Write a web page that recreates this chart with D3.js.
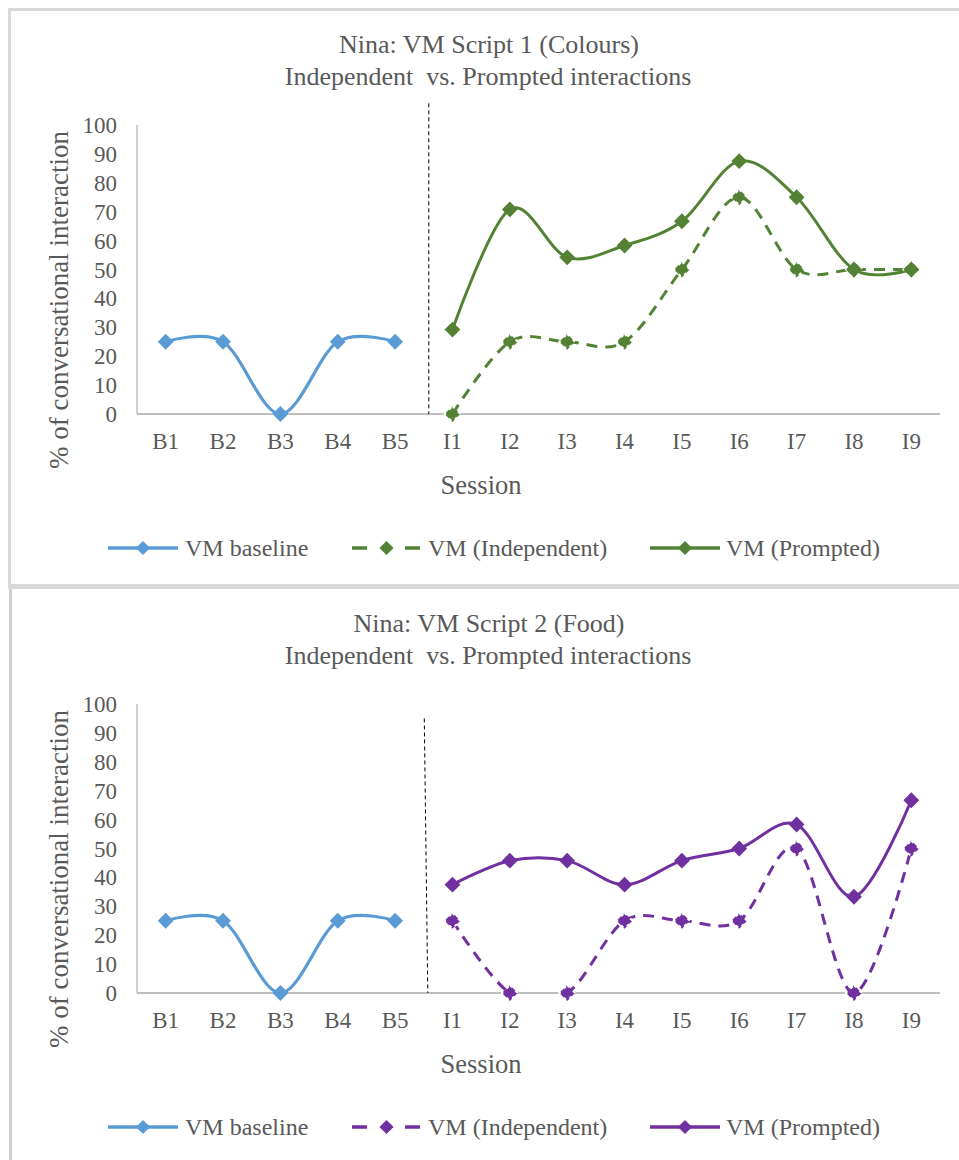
<!DOCTYPE html>
<html>
<head>
<meta charset="utf-8">
<script src="https://cdn.jsdelivr.net/npm/d3@7"></script>
<style>
  html, body { margin: 0; padding: 0; background: #ffffff; }
  svg { display: block; }
  text { font-family: "Liberation Serif", "Times New Roman", "DejaVu Serif", serif; fill: #595959; }
</style>
</head>
<body>
<svg id="chart" width="959" height="1160"></svg>
<script>
// ---------- data ----------
const sessions = ["B1","B2","B3","B4","B5","I1","I2","I3","I4","I5","I6","I7","I8","I9"];
const baselineSessions = ["B1","B2","B3","B4","B5"];
const interventionSessions = ["I1","I2","I3","I4","I5","I6","I7","I8","I9"];
const yTicks = [0,10,20,30,40,50,60,70,80,90,100];

const titles1 = ["Nina: VM Script 1 (Colours)", "Independent  vs. Prompted interactions"];
const baseline1 = [25,25,0,25,25];
const independent1 = [0,25,25,25,50,75,50,50,50];
const prompted1 = [29.2,70.8,54.2,58.3,66.7,87.5,75,50,50];

const titles2 = ["Nina: VM Script 2 (Food)", "Independent  vs. Prompted interactions"];
const baseline2 = [25,25,0,25,25];
const independent2 = [25,0,0,25,25,25,50,0,50];
const prompted2 = [37.5,45.8,45.8,37.5,45.8,50,58.3,33.3,66.7];

const legendLabels = ["VM baseline","VM (Independent)","VM (Prompted)"];
const yTitle = "% of conversational interaction";
const xTitle = "Session";

// ---------- styles ----------
const BLUE = "#5B9BD5";
const GREEN = "#548235";
const PURPLE = "#7030A0";
const AXIS = "#BFBFBF";
const FRAME = "#D9D9D9";
const SERIF = "'Liberation Serif', 'Times New Roman', 'DejaVu Serif', serif";

const svg = d3.select("#chart");

// frame
svg.append("rect").attr("x", 8).attr("y", 8).attr("width", 951).attr("height", 3).attr("fill", FRAME);
svg.append("rect").attr("x", 8).attr("y", 8).attr("width", 3).attr("height", 576).attr("fill", FRAME);
svg.append("rect").attr("x", 8).attr("y", 584).attr("width", 951).attr("height", 5).attr("fill", FRAME);
svg.append("rect").attr("x", 9).attr("y", 589).attr("width", 3).attr("height", 571).attr("fill", "#CFCFCF");

const x = d3.scaleBand().domain(sessions).range([137, 940]).paddingInner(0).paddingOuter(0);
const y = d3.scaleLinear().domain([0, 100]).range([414, 125]);
const cx = s => x(s) + x.bandwidth() / 2;

const line = d3.line().x(d => cx(d.s)).y(d => y(d.v)).curve(d3.curveCardinal.tension(0));
const diamond = d3.symbol().type(d3.symbolSquare).size(125);
const diamondSmall = d3.symbol().type(d3.symbolSquare).size(100);

function drawChart(idx, offsetY, titles, baseline, independent, prompted, color, divTop, divShiftTop, divShiftBottom) {
  const g = svg.append("g").attr("transform", `translate(0,${offsetY})`);

  // clip to plot area (Excel clips series lines to the plot area)
  const clipId = "plotclip" + idx;
  g.append("clipPath").attr("id", clipId).append("rect")
    .attr("x", x.range()[0]).attr("y", y(100) - 20)
    .attr("width", x.range()[1] - x.range()[0]).attr("height", y(0) - y(100) + 21);

  // titles
  g.append("text").attr("x", 489).attr("y", 53).attr("text-anchor", "middle")
    .style("font-family", SERIF).style("font-size", "26px").text(titles[0]);
  g.append("text").attr("x", 488).attr("y", 85).attr("text-anchor", "middle")
    .style("font-family", SERIF).style("font-size", "26px").style("white-space", "pre").text(titles[1]);

  // y tick labels
  g.selectAll(".ytick").data(yTicks).enter().append("text")
    .attr("x", 117).attr("y", d => y(d)).attr("dy", "0.35em").attr("text-anchor", "end")
    .style("font-family", SERIF).style("font-size", "23px").text(d => d);

  // axes lines
  g.append("line").attr("x1", 137).attr("x2", 137).attr("y1", y(100)).attr("y2", y(0))
    .attr("stroke", AXIS).attr("stroke-width", 1.5);
  g.append("line").attr("x1", x.range()[0]).attr("x2", x.range()[1]).attr("y1", y(0)).attr("y2", y(0))
    .attr("stroke", AXIS).attr("stroke-width", 2);

  // x tick labels
  g.selectAll(".xtick").data(sessions).enter().append("text")
    .attr("x", d => cx(d)).attr("y", 449).attr("text-anchor", "middle")
    .style("font-family", SERIF).style("font-size", "23px").text(d => d);

  // axis titles
  g.append("text").attr("x", 481).attr("y", 494).attr("text-anchor", "middle")
    .style("font-family", SERIF).style("font-size", "26.5px").text(xTitle);
  g.append("text").attr("transform", "translate(68,300) rotate(-90)").attr("text-anchor", "middle")
    .style("font-family", SERIF).style("font-size", "27px").text(yTitle);

  // phase divider
  const divX = x("I1");
  g.append("line").attr("x1", divX + divShiftTop).attr("x2", divX + divShiftBottom)
    .attr("y1", y(divTop)).attr("y2", y(0))
    .attr("stroke", "#000").attr("stroke-width", 1).attr("stroke-dasharray", "4,3");

  // series
  const bData = baselineSessions.map((s, i) => ({s, v: baseline[i]}));
  const iData = interventionSessions.map((s, i) => ({s, v: independent[i]}));
  const pData = interventionSessions.map((s, i) => ({s, v: prompted[i]}));

  const lines = g.append("g").attr("clip-path", `url(#${clipId})`);
  lines.append("path").datum(bData).attr("d", line).attr("fill", "none").attr("stroke", BLUE).attr("stroke-width", 3.2);
  lines.append("path").datum(iData).attr("d", line).attr("fill", "none").attr("stroke", color).attr("stroke-width", 3).attr("stroke-dasharray", "11,8");
  lines.append("path").datum(pData).attr("d", line).attr("fill", "none").attr("stroke", color).attr("stroke-width", 3);

  g.selectAll(".mb").data(bData).enter().append("path")
    .attr("d", diamond).attr("transform", d => `translate(${cx(d.s)},${y(d.v)}) rotate(45)`)
    .attr("fill", BLUE);
  g.selectAll(".mi").data(iData).enter().append("path")
    .attr("d", diamond).attr("transform", d => `translate(${cx(d.s)},${y(d.v)}) rotate(45)`)
    .attr("fill", color).attr("stroke", "#fff").attr("stroke-width", 2).attr("stroke-dasharray", "3,5");
  g.selectAll(".mp").data(pData).enter().append("path")
    .attr("d", diamond).attr("transform", d => `translate(${cx(d.s)},${y(d.v)}) rotate(45)`)
    .attr("fill", color);

  // legend
  const ly = 548;
  const items = [
    {label: legendLabels[0], color: BLUE, x1: 108, x2: 178, dash: null, tx: 185},
    {label: legendLabels[1], color: color, x1: 352, x2: 421, dash: "15,38", tx: 428},
    {label: legendLabels[2], color: color, x1: 650, x2: 720, dash: null, tx: 726}
  ];
  items.forEach(it => {
    const l = g.append("line").attr("x1", it.x1).attr("x2", it.x2).attr("y1", ly).attr("y2", ly)
      .attr("stroke", it.color).attr("stroke-width", 3.5);
    if (it.dash) l.attr("stroke-dasharray", it.dash);
    g.append("path").attr("d", diamondSmall).attr("transform", `translate(${(it.x1 + it.x2) / 2},${ly}) rotate(45)`)
      .attr("fill", it.color);
    g.append("text").attr("x", it.tx).attr("y", ly + 8)
      .style("font-family", SERIF).style("font-size", "24px").text(it.label);
  });
}

drawChart(1, 0, titles1, baseline1, independent1, prompted1, GREEN, 107.5, 5, 5);
drawChart(2, 579, titles2, baseline2, independent2, prompted2, PURPLE, 95, 0.5, 4);
</script>
</body>
</html>
